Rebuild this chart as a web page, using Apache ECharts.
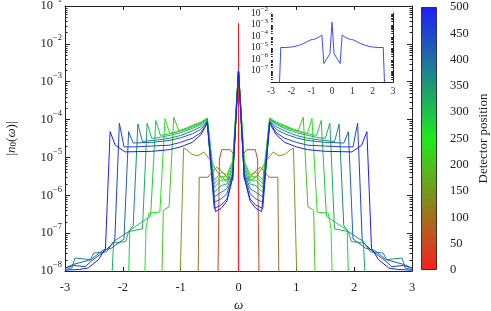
<!DOCTYPE html>
<html><head><meta charset="utf-8">
<script src="https://cdn.jsdelivr.net/npm/echarts/dist/echarts.min.js"></script>
<style>html,body{margin:0;padding:0;background:#fff}#c{width:491px;height:311px}</style>
</head><body><div id="c"></div>
<script>
// ---- data (omega >= 0 half of each symmetric spectrum: [omega, |n0(omega)|]) ----
const positions = [0, 50, 100, 150, 200, 243, 286, 329, 371, 414, 457, 500];
const half_p0 = [[0,3.5e-2],[0.004,1e-14],[3,1e-14]];
const half_p50 = [[0,2e-3],[0.08,1.2e-5],[0.14,1.6e-5],[0.22,1.6e-5],[0.29,1.6e-5],[0.33,9e-6],[0.37,1e-10]];
const half_p100 = [[0,2e-3],[0.1,2.5e-6],[0.2,3e-6],[0.3,4.5e-6],[0.38,5.5e-6],[0.46,4e-6],[0.53,3e-6],[0.68,3e-6],[0.71,1e-10]];
const half_p150 = [[0,2e-3],[0.1,3e-6],[0.2,2.5e-6],[0.3,3e-6],[0.4,5e-6],[0.5,9e-6],[0.6,1.4e-5],[0.7,1.1e-5],[0.8,1.2e-5],[0.9,1.6e-5],[0.95,1.75e-5],[1.04,1e-10]];
const half_p200 = [[0,2e-3],[0.1,8e-6],[0.2,3.5e-6],[0.3,4e-6],[0.42,2.5e-6],[0.54,1.1e-4],[0.65,8.5e-5],[0.8,7e-5],[0.95,5.5e-5],[1.03,5e-5],[1.12,1.15e-4],[1.2,5e-7],[1.3,4e-7],[1.35,1e-10]];
const half_p243 = [[0,2e-3],[0.1,7e-6],[0.2,3e-6],[0.3,3.2e-6],[0.42,2e-6],[0.54,1.08e-4],[0.65,8.5e-5],[0.8,6.8e-5],[1.0,5.2e-5],[1.13,4.5e-5],[1.19,4.3e-5],[1.27,1.07e-4],[1.36,3.6e-7],[1.55,3.4e-7],[1.6,1.3e-7],[1.65,1e-10]];
const half_p286 = [[0,2e-3],[0.1,6e-6],[0.2,2.5e-6],[0.3,2.5e-6],[0.42,1.6e-6],[0.54,1.05e-4],[0.65,8e-5],[0.8,6.3e-5],[1.0,5e-5],[1.2,4.2e-5],[1.35,3.8e-5],[1.43,9.5e-5],[1.52,2.8e-7],[1.88,1.2e-7],[1.93,1e-10]];
const half_p329 = [[0,2e-3],[0.1,5e-6],[0.2,2e-6],[0.3,1.8e-6],[0.42,1.2e-6],[0.54,1e-4],[0.65,7.5e-5],[0.8,5.8e-5],[1.0,4.5e-5],[1.2,3.8e-5],[1.4,3.3e-5],[1.5,3.2e-5],[1.58,8e-5],[1.66,1.3e-7],[1.9,1.1e-7],[1.95,6e-8],[2.16,5.5e-8],[2.25,1e-10]];
const half_p371 = [[0,2e-3],[0.1,4e-6],[0.2,1.5e-6],[0.3,1.2e-6],[0.42,9e-7],[0.54,9.5e-5],[0.65,6.5e-5],[0.8,5e-5],[1.0,3.8e-5],[1.2,3.2e-5],[1.4,2.9e-5],[1.6,2.7e-5],[1.66,2.6e-5],[1.74,7.6e-5],[1.82,1.6e-7],[1.9,1.1e-7],[2.16,6e-8],[2.28,3.2e-8],[2.5,3e-8],[2.56,2e-8],[2.83,2.2e-8],[2.88,1.2e-8],[3,1.1e-8]];
const half_p414 = [[0,2e-3],[0.1,3.5e-6],[0.2,1.1e-6],[0.3,8e-7],[0.42,6.5e-7],[0.54,9e-5],[0.65,5.5e-5],[0.8,4.2e-5],[1.0,3.3e-5],[1.2,2.8e-5],[1.5,2.5e-5],[1.82,2.4e-5],[1.9,4.8e-5],[1.98,7e-8],[2.2,4e-8],[2.35,3.5e-8],[2.55,2e-8],[2.85,1.5e-8],[3,1.2e-8]];
const half_p457 = [[0,2e-3],[0.1,3e-6],[0.2,8e-7],[0.3,5.5e-7],[0.42,4.5e-7],[0.54,8.5e-5],[0.65,4.5e-5],[0.8,3.2e-5],[1.0,2.5e-5],[1.2,2.1e-5],[1.5,2e-5],[1.8,1.9e-5],[1.98,1.9e-5],[2.06,8e-5],[2.14,6e-8],[2.3,3.5e-8],[2.55,1.8e-8],[2.65,1.3e-8],[2.85,1.4e-8],[3,1.2e-8]];
const half_p500 = [[0,1.8e-3],[0.1,3e-6],[0.2,7e-7],[0.3,4.5e-7],[0.4,3.7e-7],[0.54,8e-5],[0.65,4e-5],[0.8,2.5e-5],[1.0,1.9e-5],[1.2,1.6e-5],[1.5,1.45e-5],[1.96,1.4e-5],[2.13,2.1e-5],[2.22,4.8e-5],[2.3,4e-8],[2.42,2e-8],[2.6,1.2e-8],[2.75,1.1e-8],[3,1.05e-8]];
const halves = [half_p0, half_p50, half_p100, half_p150, half_p200, half_p243, half_p286, half_p329, half_p371, half_p414, half_p457, half_p500];

// inset spectrum (omega >= 0 half)
const inset_half = [[0,1.6e-3],[0.1,3e-6],[0.2,1.5e-6],[0.3,8e-7],[0.4,4e-7],[0.5,1.25e-4],[0.6,9e-5],[0.75,6.5e-5],[0.9,5e-5],[1.05,4.6e-5],[1.2,3.4e-5],[1.39,2.3e-5],[1.6,1.6e-5],[1.87,1.2e-5],[2.1,1.05e-5],[2.36,1e-5],[2.45,1.4e-5],[2.52,1e-5],[2.6,1e-9]];

// axis ticks / labels
const xTicks = ['-3','-2','-1','0','1','2','3'];
const yExpMain = [-8,-7,-6,-5,-4,-3,-2,-1];
const yExpInset = [-8,-7,-6,-5,-4,-3,-2];
const minorMult = [2,3,4,5,6,7,8,9];
const cbarTicks = [0,50,100,150,200,250,300,350,400,450,500];
const cbarMax = 500;

// ---- helpers ----
function mirror(h){
  const left = h.slice(1).reverse().map(p => [-p[0], p[1]]);
  return left.concat(h);
}
const cstops = [[250,30,30],[30,235,30],[30,30,250]];
function cmap(p){
  const t = p / cbarMax;
  let a, b, f;
  if (t <= 0.5) { a = cstops[0]; b = cstops[1]; f = t * 2; } else { a = cstops[1]; b = cstops[2]; f = (t - 0.5) * 2; }
  const c = a.map((v,i) => Math.round(v + (b[i]-v)*f));
  return 'rgb(' + c.join(',') + ')';
}
const FONT = 'Liberation Serif';
const AX = '#222';
function powLabel(v){
  const e = Math.round(Math.log10(v));
  return '{b|10}{s|' + (e < 0 ? '\u2212' + (-e) : e) + '}';
}
function powRich(big, small, pad){
  return {
    b: {fontFamily: FONT, fontSize: big, color: AX, padding: [pad,0,pad,0], verticalAlign: 'bottom'},
    s: {fontFamily: FONT, fontSize: small, color: AX, verticalAlign: 'top'}
  };
}
function minorValues(exps){
  const out = [];
  exps.slice(0, -1).forEach(e => minorMult.forEach(m => out.push([0, m * Math.pow(10, e)])));
  return out;
}
function minorTickSeries(xi, yi, len){
  return {
    type: 'custom', xAxisIndex: xi, yAxisIndex: yi, data: minorValues(xi === 0 ? yExpMain : yExpInset),
    silent: true, animation: false, clip: false, z: 5,
    renderItem: (params, api) => {
      const y = Math.round(api.coord([0, api.value(1)])[1]) + 0.5;
      const xl = api.coord([-3, 1e-5])[0];
      const xr = api.coord([3, 1e-5])[0];
      const st = {stroke: AX, lineWidth: 1};
      return {type: 'group', children: [
        {type: 'line', shape: {x1: xl, y1: y, x2: xl + len, y2: y}, style: st},
        {type: 'line', shape: {x1: xr - len, y1: y, x2: xr, y2: y}, style: st}
      ]};
    }
  };
}

const series = halves.map((h, i) => ({
  type: 'line', xAxisIndex: 0, yAxisIndex: 0, data: mirror(h), showSymbol: false,
  lineStyle: {width: 1, color: cmap(positions[i])}, itemStyle: {color: cmap(positions[i])},
  animation: false, silent: true, clip: true, z: 2
}));
series.push({
  type: 'line', xAxisIndex: 2, yAxisIndex: 2, data: mirror(inset_half), showSymbol: false,
  lineStyle: {width: 1, color: '#3a4cff'}, animation: false, silent: true, clip: true, z: 3
});
series.push(minorTickSeries(0, 0, 2.5));
series.push(minorTickSeries(2, 2, 1.8));
series.push({
  type: 'bar', xAxisIndex: 4, yAxisIndex: 4, data: [cbarMax], barWidth: '100%', animation: false, silent: true,
  itemStyle: {borderColor: '#333', borderWidth: 1, color: {type: 'linear', x: 0, y: 1, x2: 0, y2: 0,
    colorStops: [{offset: 0, color: cmap(0)}, {offset: 0.5, color: cmap(250)}, {offset: 1, color: cmap(500)}]}}
});

const lineAx = {show: true, onZero: false, lineStyle: {color: AX, width: 1}};
const chart = echarts.init(document.getElementById('c'), null, {renderer: 'canvas'});
chart.setOption({
  backgroundColor: '#fff',
  animation: false,
  grid: [
    {left: 65, top: 6, width: 347, height: 265, containLabel: false, outerBoundsMode: 'none'},
    {left: 271, top: 13, width: 122, height: 69, show: true, backgroundColor: '#fff', borderWidth: 0, z: 1, containLabel: false, outerBoundsMode: 'none'},
    {left: 421, top: 7, width: 16, height: 263, containLabel: false, outerBoundsMode: 'none'}
  ],
  xAxis: [
    {gridIndex: 0, type: 'value', min: -3, max: 3, interval: 1, position: 'bottom', axisLine: lineAx,
     axisTick: {inside: true, length: 4, lineStyle: {color: AX}}, splitLine: {show: false},
     axisLabel: {fontFamily: FONT, fontSize: 12.5, color: AX, margin: 10, formatter: (v) => xTicks[Math.round(v) + 3]},
     name: 'ω', nameLocation: 'middle', nameGap: 27, nameTextStyle: {fontFamily: FONT, fontStyle: 'italic', fontSize: 13, color: AX}},
    {gridIndex: 0, type: 'value', min: -3, max: 3, interval: 1, position: 'top', axisLine: lineAx,
     axisTick: {inside: true, length: 4, lineStyle: {color: AX}}, splitLine: {show: false}, axisLabel: {show: false}},
    {gridIndex: 1, type: 'value', min: -3, max: 3, interval: 1, position: 'bottom', axisLine: lineAx,
     axisTick: {inside: true, length: 3, lineStyle: {color: AX}}, splitLine: {show: false},
     axisLabel: {fontFamily: FONT, fontSize: 9.5, color: '#333', margin: 4, formatter: (v) => xTicks[Math.round(v) + 3]}},
    {gridIndex: 1, type: 'value', min: -3, max: 3, interval: 1, position: 'top', axisLine: lineAx,
     axisTick: {inside: true, length: 3, lineStyle: {color: AX}}, splitLine: {show: false}, axisLabel: {show: false}},
    {gridIndex: 2, type: 'category', data: ['c'], show: false}
  ],
  yAxis: [
    {gridIndex: 0, type: 'log', logBase: 10, min: 1e-8, max: 1e-1, interval: 1, position: 'left', axisLine: lineAx,
     axisTick: {inside: true, length: 5, lineStyle: {color: AX}}, minorTick: {show: false},
     splitLine: {show: false},
     axisLabel: {margin: 3, formatter: (v) => powLabel(v), rich: powRich(12.5, 8.5, 4)},
     name: '{p||}{i|n}{sub|0}{p|(}{i|ω}{p|)|}', nameLocation: 'middle', nameRotate: 90, nameGap: 47,
     nameTextStyle: {rich: {
       p: {fontFamily: FONT, fontSize: 13, color: AX},
       i: {fontFamily: FONT, fontSize: 13, fontStyle: 'italic', color: AX},
       sub: {fontFamily: FONT, fontSize: 9, color: AX, verticalAlign: 'bottom', padding: [4,0,0,0]}
     }}},
    {gridIndex: 0, type: 'log', logBase: 10, min: 1e-8, max: 1e-1, interval: 1, position: 'right', axisLine: lineAx,
     axisTick: {inside: true, length: 5, lineStyle: {color: AX}}, minorTick: {show: false},
     splitLine: {show: false}, axisLabel: {show: false}},
    {gridIndex: 1, type: 'log', logBase: 10, min: 1e-8, max: 1e-2, interval: 1, position: 'left', axisLine: lineAx,
     axisTick: {inside: true, length: 3, lineStyle: {color: AX}}, minorTick: {show: false},
     splitLine: {show: false},
     axisLabel: {margin: 3, formatter: (v) => powLabel(v), rich: powRich(9.5, 7, 2)}},
    {gridIndex: 1, type: 'log', logBase: 10, min: 1e-8, max: 1e-2, interval: 1, position: 'right', axisLine: lineAx,
     axisTick: {inside: true, length: 3, lineStyle: {color: AX}}, minorTick: {show: false},
     splitLine: {show: false}, axisLabel: {show: false}},
    {gridIndex: 2, type: 'value', min: 0, max: cbarMax, interval: 50, position: 'right',
     axisLine: {show: false}, axisTick: {inside: true, length: 3, lineStyle: {color: '#222'}}, splitLine: {show: false},
     axisLabel: {fontFamily: FONT, fontSize: 12.5, color: AX, margin: 13, formatter: (v) => String(cbarTicks[Math.round(v / 50)])},
     name: 'Detector position', nameLocation: 'middle', nameRotate: 90, nameGap: 40,
     nameTextStyle: {fontFamily: FONT, fontSize: 13, color: AX}},
    {gridIndex: 2, type: 'value', min: 0, max: cbarMax, interval: 50, position: 'left',
     axisLine: {show: false}, axisTick: {inside: true, length: 3, lineStyle: {color: '#222'}}, splitLine: {show: false}, axisLabel: {show: false}}
  ],
  series: series
});
</script></body></html>
